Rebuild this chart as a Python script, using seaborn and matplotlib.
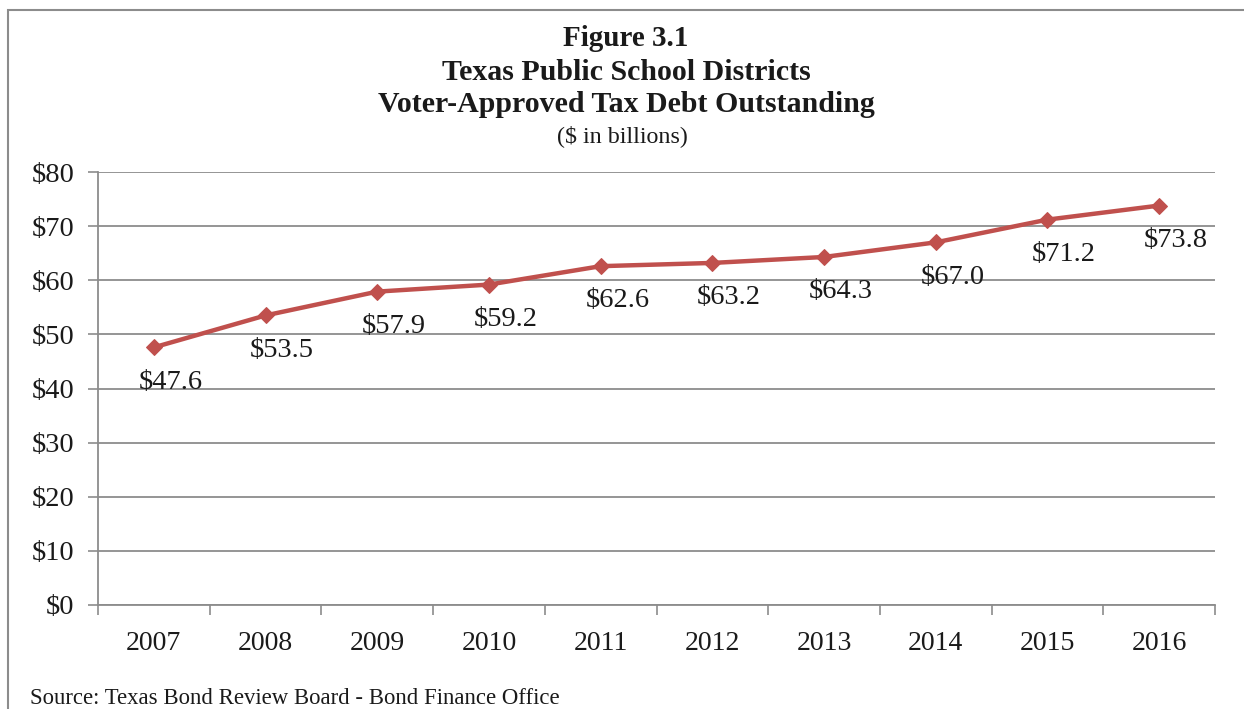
import matplotlib
matplotlib.use("Agg")
import matplotlib.pyplot as plt
import seaborn as sns
import pandas as pd
from matplotlib.patches import Rectangle

years = ["2007", "2008", "2009", "2010", "2011", "2012", "2013", "2014", "2015", "2016"]
debt = [47.6, 53.5, 57.9, 59.2, 62.6, 63.2, 64.3, 67.0, 71.2, 73.8]
y_ticks = [0, 10, 20, 30, 40, 50, 60, 70, 80]

sns.set_theme(style="white")
plt.rcParams["font.family"] = ["Liberation Serif", "DejaVu Serif"]

df = pd.DataFrame({"idx": range(len(years)), "year": years, "debt": debt})

fig = plt.figure(figsize=(12.44, 7.09), dpi=100)
ax = fig.add_axes([98 / 1244, 1 - 605 / 709, (1215 - 98) / 1244, (605 - 172) / 709])

grid_c = "#8c8c8c"
text_c = "#1a1a1a"
sns.lineplot(data=df, x="idx", y="debt", ax=ax, color="#C0504D", linewidth=3.2,
             marker="D", markersize=8, markeredgecolor="#C0504D", zorder=3)

ax.set_xlim(-0.5, len(years) - 0.5)
ax.set_ylim(0, 80)
ax.set_yticks(y_ticks)
ax.set_yticklabels([f"${v}" for v in y_ticks], fontsize=20.5, color=text_c)
ax.set_xticks(range(len(years)))
ax.set_xticklabels(years, fontsize=20, color=text_c)
ax.set_xticks([i - 0.5 for i in range(len(years) + 1)], minor=True)
ax.tick_params(axis="x", which="both", bottom=True)
ax.tick_params(axis="y", which="both", left=True)
ax.tick_params(axis="x", which="major", length=0, pad=19)
ax.tick_params(axis="x", which="minor", length=7, width=1.2, color=grid_c, direction="out")
ax.tick_params(axis="y", which="major", length=7, width=1.2, color=grid_c, direction="out", pad=10)
ax.set_xlabel("")
ax.set_ylabel("")
ax.yaxis.grid(True, color=grid_c, linewidth=1.3)
ax.set_axisbelow(True)
for s in ["top", "right"]:
    ax.spines[s].set_visible(False)
for s in ["left", "bottom"]:
    ax.spines[s].set_color(grid_c)
    ax.spines[s].set_linewidth(1.3)

for i, v in enumerate(debt):
    ax.annotate(f"${v:.1f}", (i, v), xytext=(12, -25), textcoords="offset points",
                ha="center", va="center", fontsize=20.5, color=text_c)

# outer frame
fig.patches.append(Rectangle((8 / 1244, -0.05), 1.1, 1 - 10 / 709 + 0.05,
                             transform=fig.transFigure, fill=False,
                             edgecolor="#8c8c8c", linewidth=1.5))

cx = 626 / 1244
fig.text(cx, 1 - 39 / 709, "Figure 3.1", ha="center", va="center", fontsize=21, fontweight="bold", color=text_c)
fig.text(cx, 1 - 72 / 709, "Texas Public School Districts", ha="center", va="center", fontsize=21.5, fontweight="bold", color=text_c)
fig.text(cx, 1 - 105 / 709, "Voter-Approved Tax Debt Outstanding", ha="center", va="center", fontsize=21.5, fontweight="bold", color=text_c)
fig.text(622 / 1244, 1 - 136 / 709, "($ in billions)", ha="center", va="center", fontsize=17.3, color=text_c)
fig.text(30 / 1244, 1 - 699 / 709, "Source: Texas Bond Review Board - Bond Finance Office",
         ha="left", va="center", fontsize=16.4, color=text_c)

fig.savefig("out.png", dpi=100)
